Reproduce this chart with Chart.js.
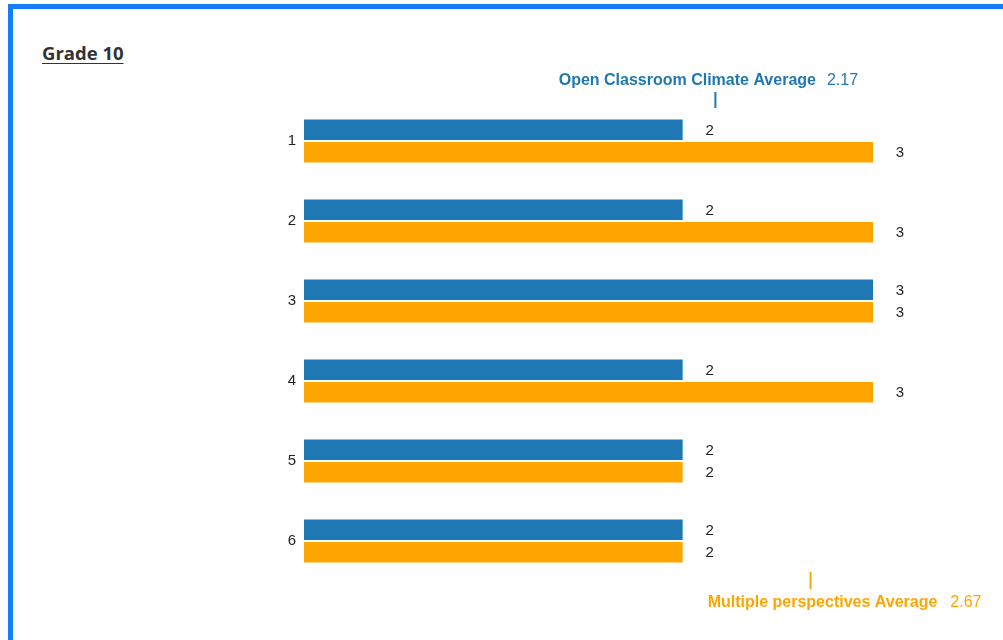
<!DOCTYPE html>
<html>
<head>
<meta charset="utf-8">
<script src="https://cdn.jsdelivr.net/npm/chart.js@4"></script>
<style>
  body { margin: 0; background: #fff; overflow: hidden; }
  .frame {
    position: absolute; left: 8px; top: 4px;
    width: 1100px; height: 800px;
    border: 5px solid #137cff;
  }
  .title {
    position: absolute; left: 42px; top: 40px;
    font-family: "Open Sans", sans-serif; font-weight: 700; font-size: 18.5px;
    color: #333; text-decoration: underline; text-underline-offset: 3px;
  }
  canvas { position: absolute; left: 0; top: 0; }
</style>
</head>
<body>
<div class="frame"></div>
<div class="title">Grade 10</div>
<canvas id="grade-chart" width="1003" height="640"></canvas>
<script>
const categories = ["1", "2", "3", "4", "5", "6"];
const open_climate = [2, 2, 3, 2, 2, 2];
const multiple_perspectives = [3, 3, 3, 3, 2, 2];

const BLUE = "#1f77b4";
const ORANGE = "#ffa500";

function mean(arr) {
  return arr.reduce((a, b) => a + b, 0) / arr.length;
}

const avg_open = mean(open_climate);
const avg_multi = mean(multiple_perspectives);

// value labels + average markers
const annotations = {
  id: "annotations",
  afterDatasetsDraw(chart) {
    const ctx = chart.ctx;
    const x = chart.scales.x;
    ctx.save();
    ctx.font = "15px 'Liberation Sans', Arial, sans-serif";
    ctx.fillStyle = "#222";
    ctx.textAlign = "center";
    ctx.textBaseline = "middle";
    chart.data.datasets.forEach((ds, i) => {
      chart.getDatasetMeta(i).data.forEach((bar, j) => {
        ctx.fillText(String(ds.data[j]), bar.x + 26, bar.y + 1);
      });
    });

    // top average (open classroom)
    const xo = x.getPixelForValue(avg_open);
    ctx.strokeStyle = BLUE;
    ctx.lineWidth = 2;
    ctx.beginPath();
    ctx.moveTo(xo, 92);
    ctx.lineTo(xo, 108);
    ctx.stroke();
    drawLabel(ctx, "Open Classroom Climate Average", avg_open.toFixed(2), xo - 7, 81, BLUE, 11);

    // bottom average (multiple perspectives)
    const xm = x.getPixelForValue(avg_multi);
    ctx.strokeStyle = ORANGE;
    ctx.beginPath();
    ctx.moveTo(xm, 572);
    ctx.lineTo(xm, 589);
    ctx.stroke();
    drawLabel(ctx, "Multiple perspectives Average", avg_multi.toFixed(2), xm + 34, 603, ORANGE, 13);
    ctx.restore();
  }
};

function drawLabel(ctx, name, value, cx, y, color, gap) {
  ctx.fillStyle = color;
  ctx.textBaseline = "middle";
  ctx.textAlign = "left";
  ctx.font = "bold 16px 'Liberation Sans', Arial, sans-serif";
  const w1 = ctx.measureText(name).width;
  ctx.font = "16px 'Liberation Sans', Arial, sans-serif";
  const w2 = ctx.measureText(value).width;
  const start = cx - (w1 + gap + w2) / 2;
  ctx.font = "bold 16px 'Liberation Sans', Arial, sans-serif";
  ctx.fillText(name, start, y);
  ctx.font = "16px 'Liberation Sans', Arial, sans-serif";
  ctx.fillText(value, start + w1 + gap, y);
}

new Chart(document.getElementById("grade-chart"), {
  type: "bar",
  data: {
    labels: categories,
    datasets: [
      {
        label: "Open Classroom Climate",
        data: open_climate,
        backgroundColor: BLUE,
        borderColor: "#ffffff",
        borderWidth: 1,
        borderSkipped: false,
        barPercentage: 1,
        categoryPercentage: 0.56
      },
      {
        label: "Multiple perspectives",
        data: multiple_perspectives,
        backgroundColor: ORANGE,
        borderColor: "#ffffff",
        borderWidth: 1,
        borderSkipped: false,
        barPercentage: 1,
        categoryPercentage: 0.56
      }
    ]
  },
  options: {
    indexAxis: "y",
    responsive: false,
    animation: false,
    layout: {
      padding: { left: 0, right: 129, top: 101, bottom: 59 }
    },
    scales: {
      x: {
        display: false,
        min: 0,
        max: 3
      },
      y: {
        grid: { display: false, drawTicks: false },
        border: { display: false },
        ticks: {
          color: "#222",
          padding: 7,
          font: { family: "'Liberation Sans', Arial, sans-serif", size: 15 }
        },
        afterFit(scale) {
          scale.width = 303;
        }
      }
    },
    plugins: {
      legend: { display: false },
      tooltip: { enabled: false }
    }
  },
  plugins: [annotations]
});
</script>
</body>
</html>
